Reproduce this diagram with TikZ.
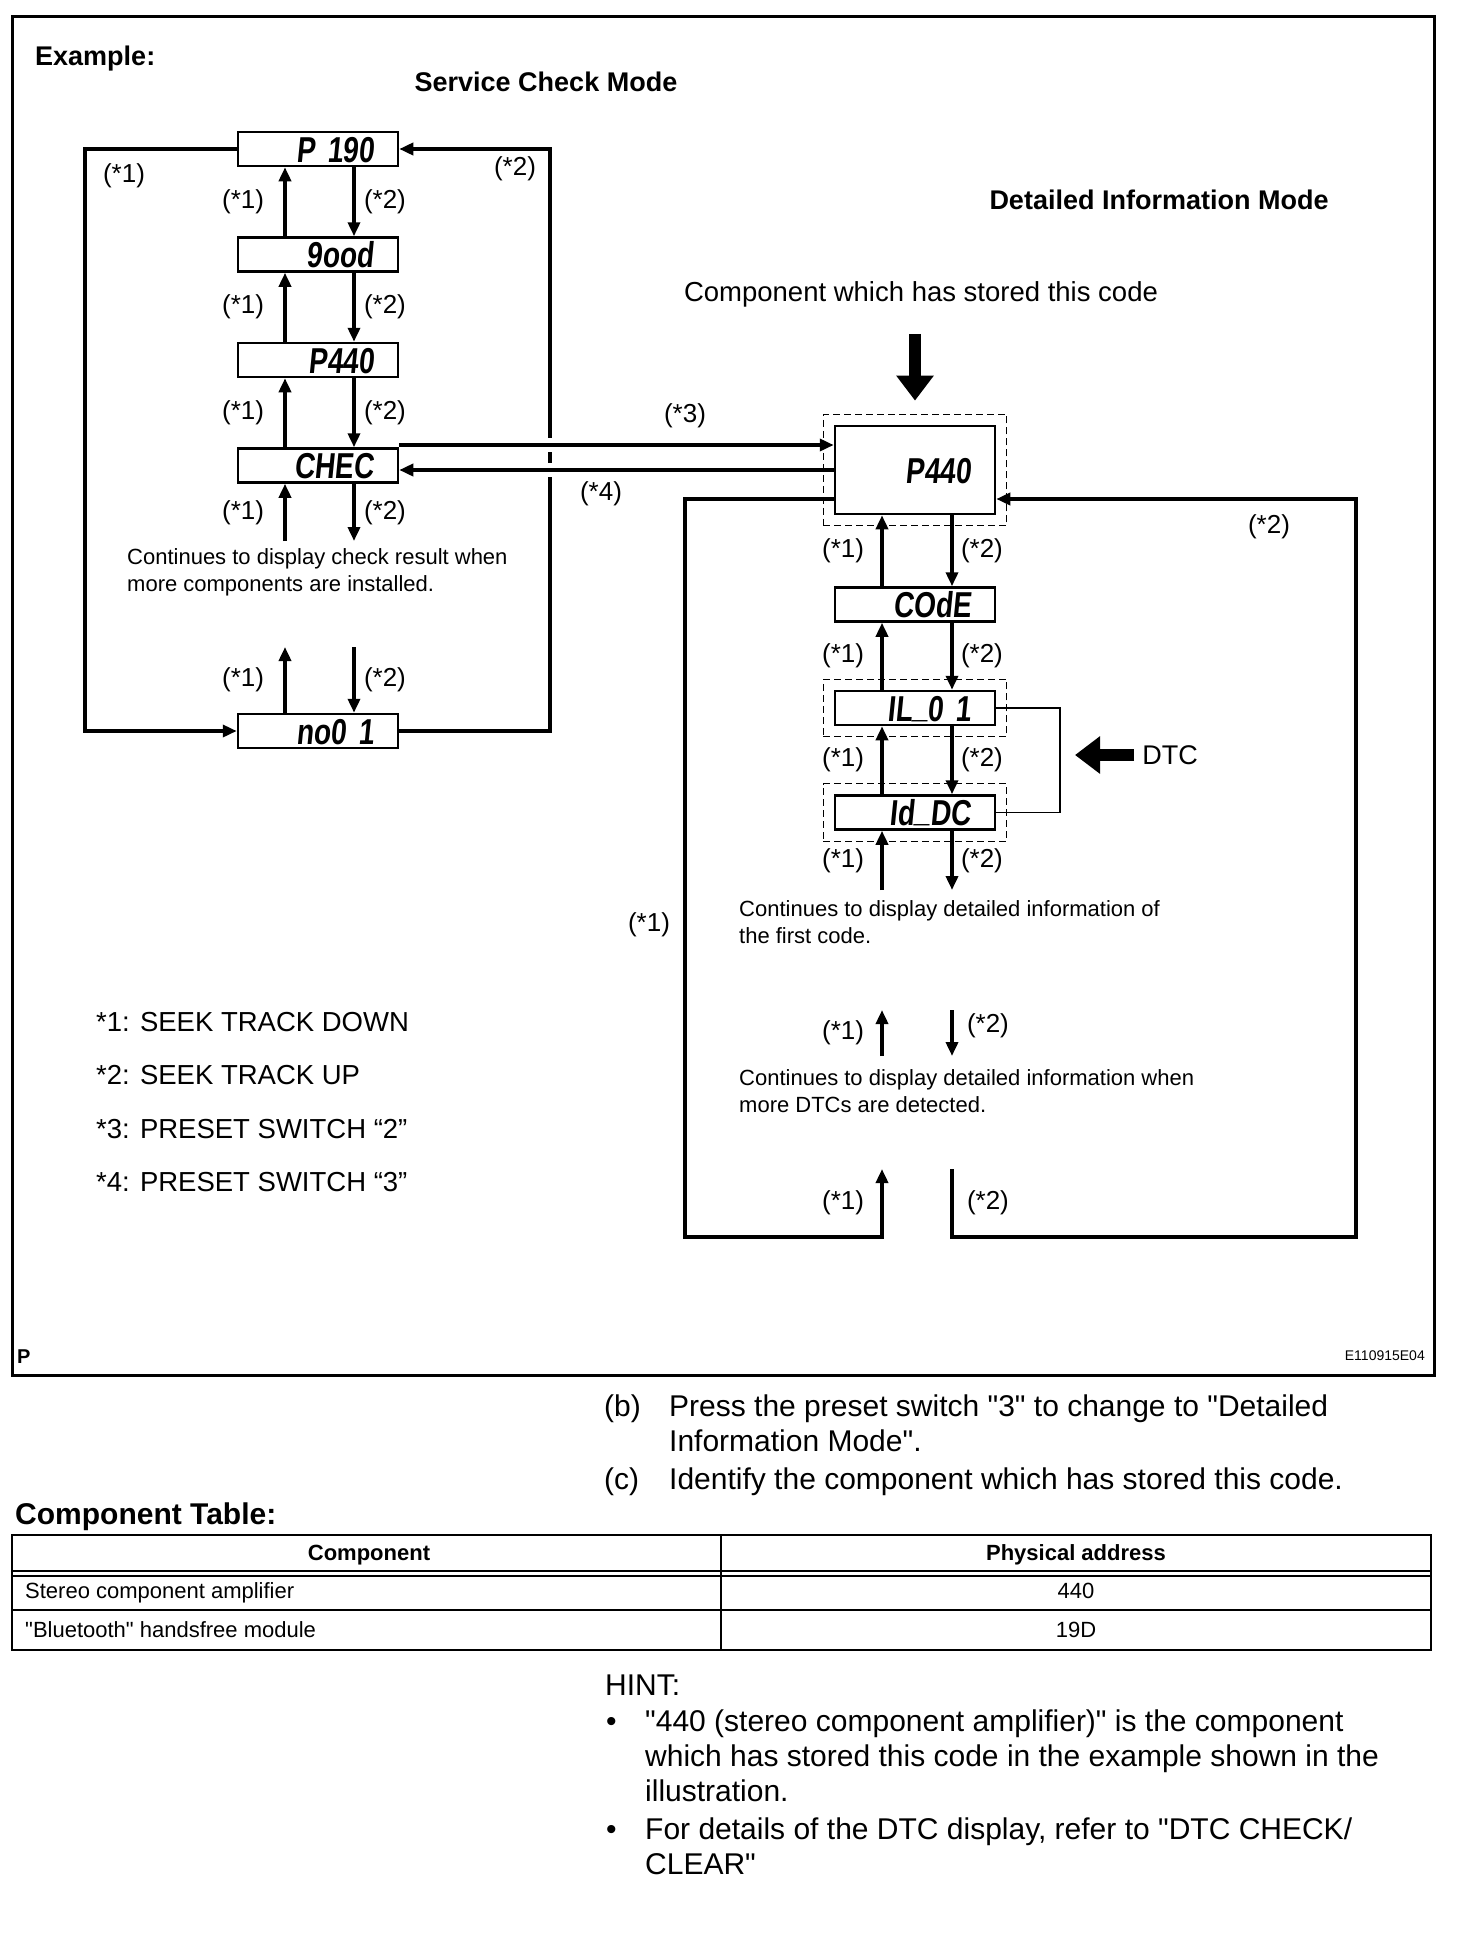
\documentclass[tikz,border=0pt]{standalone}
\usepackage{fontspec}
\setmainfont{Liberation Sans}[Ligatures=TeXOff]
\newfontfamily\lcdfont[FakeStretch=0.78,FakeSlant=0.1]{Liberation Sans}
\newcommand\segbar{\raisebox{4pt}{\_}}
\usetikzlibrary{positioning, arrows.meta, fit}

\begin{document}
\begin{tikzpicture}[
    x=1pt, y=-1pt,
    >={Triangle[length=14pt, width=12pt]},
    flow/.style={->, line width=4pt},
    lcd/.style={draw, line width=2.5pt, minimum width=160pt, minimum height=34pt, inner xsep=24pt, inner ysep=0pt, text width=112pt, align=right, text height=26pt, text depth=0pt, font=\lcdfont\bfseries\fontsize{36}{36}\selectfont},
    grp/.style={draw, line width=1.3pt, dash pattern=on 7pt off 4pt, inner sep=10.5pt},
    lab/.style={font=\fontsize{26}{30}\selectfont, inner sep=2pt},
    note/.style={anchor=base west, align=left, inner sep=0pt, font=\fontsize{22}{27}\selectfont},
    ttl/.style={anchor=base, inner sep=0pt, font=\bfseries\fontsize{27}{32}\selectfont},
    body/.style={anchor=base west, align=left, inner sep=0pt, font=\fontsize{30}{35}\selectfont},
    cell/.style={anchor=base, inner sep=0pt, font=\fontsize{22}{26}\selectfont},
    bigarrow/.style={line width=12pt, -{Triangle[length=25pt, width=36pt]}}
]
\useasboundingbox (0,0) rectangle (1472,1960);

\draw[line width=3pt] (12,16) rectangle (1434,1375);

\node[ttl, anchor=base west] (example) at (35,65) {Example:};
\node[ttl] (scm) at (546,91) {Service Check Mode};
\node[ttl] (dim) at (1159,209) {Detailed Information Mode};
\node[anchor=base, inner sep=0pt, font=\fontsize{27.5}{32}\selectfont] (stored) at (921,301) {Component which has stored this code};

\node[lcd] (p190) at (318,149) {P 190};
\node[lcd, below=69pt of p190] (good) {9ood};
\node[lcd, below=69pt of good] (p440) {P440};
\node[lcd, below=69pt of p440] (chec) {CHEC};
\node[lcd] (no01) at (318,731) {no0 1};
\node[note] (more1) at (127,591) {Continues to display check result when\\more components are installed.};

\coordinate (upL) at (285,0);
\coordinate (dnL) at (354,0);
\coordinate (scEnd) at (0,541);
\coordinate (scBeg) at (0,647);

\path[flow]
    (upL |- good.north) edge node[lab, left=17pt] {(*1)} (upL |- p190.south)
    (dnL |- p190.south) edge node[lab, right=6pt] {(*2)} (dnL |- good.north)
    (upL |- p440.north) edge node[lab, left=17pt] {(*1)} (upL |- good.south)
    (dnL |- good.south) edge node[lab, right=6pt] {(*2)} (dnL |- p440.north)
    (upL |- chec.north) edge node[lab, left=17pt] {(*1)} (upL |- p440.south)
    (dnL |- p440.south) edge node[lab, right=6pt] {(*2)} (dnL |- chec.north)
    (upL |- scEnd) edge node[lab, left=17pt] {(*1)} (upL |- chec.south)
    (dnL |- chec.south) edge node[lab, right=6pt] {(*2)} (dnL |- scEnd)
    (upL |- no01.north) edge node[lab, left=17pt] {(*1)} (upL |- scBeg)
    (dnL |- scBeg) edge node[lab, right=6pt] {(*2)} (dnL |- no01.north);

\coordinate (lTop) at (85,149);
\coordinate (rBot) at (550,731);
\draw[flow] (p190.west) -- (lTop) |- (no01.west);
\draw[flow] (no01.east) -- (rBot) |- (p190.east);
\node[lab] (k1) at (124,176) {(*1)};
\node[lab] (k2) at (515,169) {(*2)};

\node[lcd, minimum height=88pt] (bigp440) at (915,470) {P440};
\node[lcd, below=71pt of bigp440] (code) {COdE};
\node[lcd, below=67pt of code] (il01) {IL\segbar0 1};
\node[lcd, below=68pt of il01] (iddc) {Id\segbar DC};
\node[grp, fit=(bigp440)] (bigfrm) {};
\node[grp, fit=(il01)] (ilfrm) {};
\node[grp, fit=(iddc)] (idfrm) {};

\coordinate (r3) at (0,445);
\coordinate (r4) at (0,470);
\fill[white] (543,438) rectangle (557,452);
\fill[white] (543,463) rectangle (557,477);
\draw[flow] (chec.east |- r3) -- (bigp440.west |- r3);
\draw[flow] (bigp440.west |- r4) -- (chec.east |- r4);
\node[lab] (k3) at (685,416) {(*3)};
\node[lab] (k4) at (601,494) {(*4)};

\draw[bigarrow, shorten <=27pt, shorten >=13pt] (bigfrm.north |- stored.south) -- (bigfrm.north);

\coordinate (upR) at (882,0);
\coordinate (dnR) at (952,0);
\coordinate (diA) at (0,890);
\coordinate (diB) at (0,1010);
\coordinate (diC) at (0,1056);
\coordinate (diD) at (0,1169);
\coordinate (diE) at (0,1237);

\path[flow]
    (upR |- code.north) edge node[lab, left=14pt] {(*1)} (upR |- bigp440.south)
    (dnR |- bigp440.south) edge node[lab, right=5pt] {(*2)} (dnR |- code.north)
    (upR |- il01.north) edge node[lab, left=14pt] {(*1)} (upR |- code.south)
    (dnR |- code.south) edge node[lab, right=5pt] {(*2)} (dnR |- il01.north)
    (upR |- iddc.north) edge node[lab, left=14pt] {(*1)} (upR |- il01.south)
    (dnR |- il01.south) edge node[lab, right=5pt] {(*2)} (dnR |- iddc.north)
    (upR |- diA) edge node[lab, left=14pt] {(*1)} (upR |- iddc.south)
    (dnR |- iddc.south) edge node[lab, right=5pt] {(*2)} (dnR |- diA)
    (upR |- diC) edge node[lab, left=14pt] {(*1)} (upR |- diB)
    (dnR |- diB) edge node[lab, right=11pt, pos=0.35] {(*2)} (dnR |- diC);

\coordinate (brkX) at (1060,0);
\draw[line width=1.5pt] (il01.east) -- (il01.east -| brkX) -- (iddc.east -| brkX) -- (iddc.east);
\node[inner sep=0pt, font=\fontsize{27}{30}\selectfont] (dtc) at (1170,755) {DTC};
\draw[bigarrow, shorten <=8pt, shorten >=15pt] (dtc.west) -- (dtc.west -| brkX);

\node[note] (more2) at (739,943) {Continues to display detailed information of\\the first code.};
\node[note] (more3) at (739,1112) {Continues to display detailed information when\\more DTCs are detected.};

\coordinate (loopL) at (685,499);
\coordinate (loopR) at (1356,499);
\draw[flow] (bigp440.west |- loopL) -- (loopL) |- (upR |- diE) -- node[lab, left=14pt] {(*1)} (upR |- diD);
\draw[flow] (dnR |- diD) -- node[lab, right=11pt] {(*2)} (dnR |- diE) -| (loopR) -- (bigp440.east |- loopR);
\node[lab] (k5) at (1269,527) {(*2)};
\node[lab] (k6) at (649,925) {(*1)};

\node[anchor=base west, align=left, inner sep=0pt, font=\fontsize{27.5}{53.5}\selectfont] (legend) at (96,1191.5) {*1: SEEK TRACK DOWN\\*2: SEEK TRACK UP\\*3: PRESET SWITCH “2”\\*4: PRESET SWITCH “3”};

\node[anchor=base west, inner sep=0pt, font=\bfseries\fontsize{20}{24}\selectfont] (plabel) at (17,1363) {P};
\node[anchor=base east, inner sep=0pt, font=\fontsize{14}{16}\selectfont] (figid) at (1425,1360) {E110915E04};

\node[body] (itemb) at (604,1416) {(b)};
\node[body] (textb) at (669,1451) {Press the preset switch "3" to change to "Detailed\\Information Mode".};
\node[body] (itemc) at (604,1489) {(c)};
\node[body] (textc) at (669,1489) {Identify the component which has stored this code.};
\node[body, font=\bfseries\fontsize{30}{35}\selectfont] (tabtitle) at (15,1524) {Component Table:};

\draw[line width=2pt] (12,1535) rectangle (1431,1650);
\draw[line width=1.5pt] (12,1571) -- (1431,1571) (12,1576) -- (1431,1576) (12,1610) -- (1431,1610) (721,1535) -- (721,1650);
\node[cell, font=\bfseries\fontsize{22}{26}\selectfont] (hcomp) at (369,1560) {Component};
\node[cell, font=\bfseries\fontsize{22}{26}\selectfont] (haddr) at (1076,1560) {Physical address};
\node[cell, anchor=base west] (c11) at (25,1598) {Stereo component amplifier};
\node[cell] (c12) at (1076,1598) {440};
\node[cell, anchor=base west] (c21) at (25,1637) {"Bluetooth" handsfree module};
\node[cell] (c22) at (1076,1637) {19D};

\node[body] (hint) at (605,1695) {HINT:};
\node[body] (dot1) at (606,1731) {•};
\node[body] (hint1) at (645,1801) {"440 (stereo component amplifier)" is the component\\which has stored this code in the example shown in the\\illustration.};
\node[body] (dot2) at (606,1839) {•};
\node[body] (hint2) at (645,1874) {For details of the DTC display, refer to "DTC CHECK/\\CLEAR"};
\end{tikzpicture}
\end{document}
